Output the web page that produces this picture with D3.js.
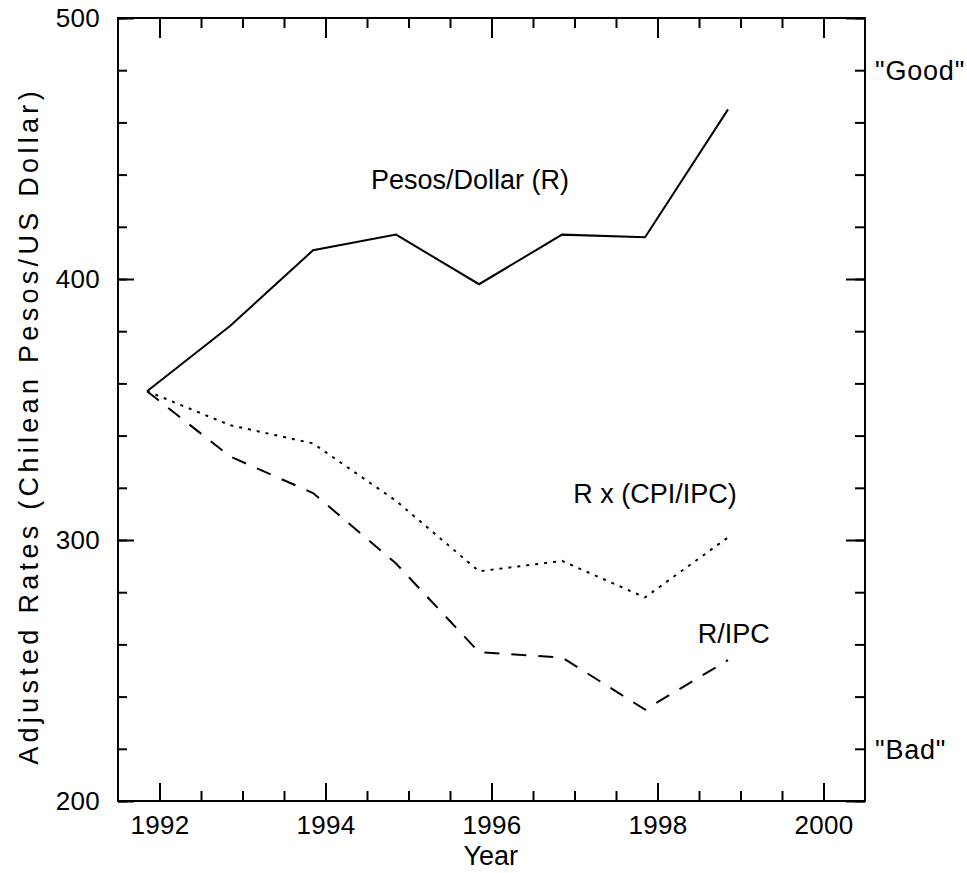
<!DOCTYPE html>
<html>
<head>
<meta charset="utf-8">
<script src="https://cdn.jsdelivr.net/npm/d3@7"></script>
<style>
  html, body { margin: 0; padding: 0; background: #fff; }
  svg { display: block; }
  text { font-family: "Liberation Sans", Arial, Helvetica, sans-serif; fill: #000; }
</style>
</head>
<body>
<svg id="chart" width="967" height="873"></svg>
<script>
// ---- data ----
const years = [1991.85, 1992.85, 1993.85, 1994.85, 1995.85, 1996.85, 1997.85, 1998.85];
const pesosDollar = [357, 382, 411, 417, 398, 417, 416, 465];
const rCpiIpc = [357, 344, 337, 315, 288, 292, 278, 301];
const rIpc = [357, 332, 318, 291, 257, 255, 235, 254];
const xMajorTicks = [1992, 1994, 1996, 1998, 2000];
const xMinorTicks = d3.range(1992, 2000.01, 0.5);
const yMajorTicks = [200, 300, 400, 500];
const yMinorTicks = d3.range(200, 500.01, 20);
const seriesLabels = ["Pesos/Dollar (R)", "R x (CPI/IPC)", "R/IPC"];
const rightLabels = [{v: 480, t: "\"Good\""}, {v: 220, t: "\"Bad\""}];
const xTitle = "Year";
const yTitle = "Adjusted Rates (Chilean Pesos/US Dollar)";

// ---- layout ----
const svg = d3.select("#chart");
const pLeft = 118, pRight = 865, pTop = 18, pBottom = 801;
const x = d3.scaleLinear().domain([1991.5, 2000.5]).range([pLeft, pRight]);
const y = d3.scaleLinear().domain([200, 500]).range([pBottom, pTop]);

const FS = 27;
const TFS = 26;

function styleAxis(g) {
  g.select(".domain").remove();
  g.selectAll(".tick line").attr("stroke", "#000").attr("stroke-width", 2);
  g.selectAll(".tick text").attr("font-size", TFS).attr("fill", "#000")
    .attr("letter-spacing", "0.3px")
    .attr("font-family", "Liberation Sans, Arial, sans-serif");
}

// minor ticks
svg.append("g").attr("transform", `translate(0,${pBottom})`)
  .call(d3.axisBottom(x).tickValues(xMinorTicks).tickSize(-10).tickFormat(""))
  .call(styleAxis);
svg.append("g").attr("transform", `translate(0,${pTop})`)
  .call(d3.axisTop(x).tickValues(xMinorTicks).tickSize(-10).tickFormat(""))
  .call(styleAxis);
svg.append("g").attr("transform", `translate(${pLeft},0)`)
  .call(d3.axisLeft(y).tickValues(yMinorTicks).tickSize(-9).tickFormat(""))
  .call(styleAxis);
svg.append("g").attr("transform", `translate(${pRight},0)`)
  .call(d3.axisRight(y).tickValues(yMinorTicks).tickSize(-10).tickFormat(""))
  .call(styleAxis);

// major ticks
svg.append("g").attr("transform", `translate(0,${pBottom})`)
  .call(d3.axisBottom(x).tickValues(xMajorTicks).tickSize(-18).tickPadding(15).tickFormat(d3.format("d")))
  .call(styleAxis);
svg.append("g").attr("transform", `translate(0,${pTop})`)
  .call(d3.axisTop(x).tickValues(xMajorTicks).tickSize(-20).tickFormat(""))
  .call(styleAxis);
svg.append("g").attr("transform", `translate(${pLeft},0)`)
  .call(d3.axisLeft(y).tickValues(yMajorTicks).tickSize(-16).tickPadding(18).tickFormat(d3.format("d")))
  .call(styleAxis);
svg.append("g").attr("transform", `translate(${pRight},0)`)
  .call(d3.axisRight(y).tickValues(yMajorTicks).tickSize(-19).tickFormat(""))
  .call(styleAxis);

// frame
svg.append("rect")
  .attr("x", x.range()[0]).attr("y", y.range()[1])
  .attr("width", x.range()[1] - x.range()[0])
  .attr("height", y.range()[0] - y.range()[1])
  .attr("fill", "none").attr("stroke", "#000").attr("stroke-width", 2);

// lines
const line = d3.line().x((d, i) => x(years[i])).y(d => y(d));
svg.append("path").datum(pesosDollar).attr("d", line)
  .attr("fill", "none").attr("stroke", "#000").attr("stroke-width", 2);
svg.append("path").datum(rCpiIpc).attr("d", line)
  .attr("fill", "none").attr("stroke", "#000").attr("stroke-width", 2)
  .attr("stroke-dasharray", "3,6");
svg.append("path").datum(rIpc).attr("d", line)
  .attr("fill", "none").attr("stroke", "#000").attr("stroke-width", 2)
  .attr("stroke-dasharray", "15,12");

// series labels
svg.append("text").attr("x", x(1995.74)).attr("y", y(434.5)).attr("text-anchor", "middle")
  .attr("font-size", FS).text(seriesLabels[0]);
svg.append("text").attr("x", x(1997.97)).attr("y", y(314.2)).attr("text-anchor", "middle")
  .attr("font-size", FS).text(seriesLabels[1]);
svg.append("text").attr("x", x(1998.92)).attr("y", y(260.5)).attr("text-anchor", "middle")
  .attr("font-size", FS).text(seriesLabels[2]);

// right-side labels
svg.selectAll(".rlab").data(rightLabels).enter().append("text")
  .attr("x", pRight + 10).attr("y", d => y(d.v)).attr("dy", "0.36em")
  .attr("font-size", FS).attr("letter-spacing", "0.8px").text(d => d.t);

// axis titles
svg.append("text").attr("x", x(1995.99)).attr("y", 865).attr("text-anchor", "middle")
  .attr("font-size", FS).text(xTitle);
svg.append("text").attr("transform", `translate(38,${y(343.7)}) rotate(-90)`)
  .attr("text-anchor", "middle").attr("font-size", FS).attr("letter-spacing", "4.3px")
  .text(yTitle);
</script>
</body>
</html>
